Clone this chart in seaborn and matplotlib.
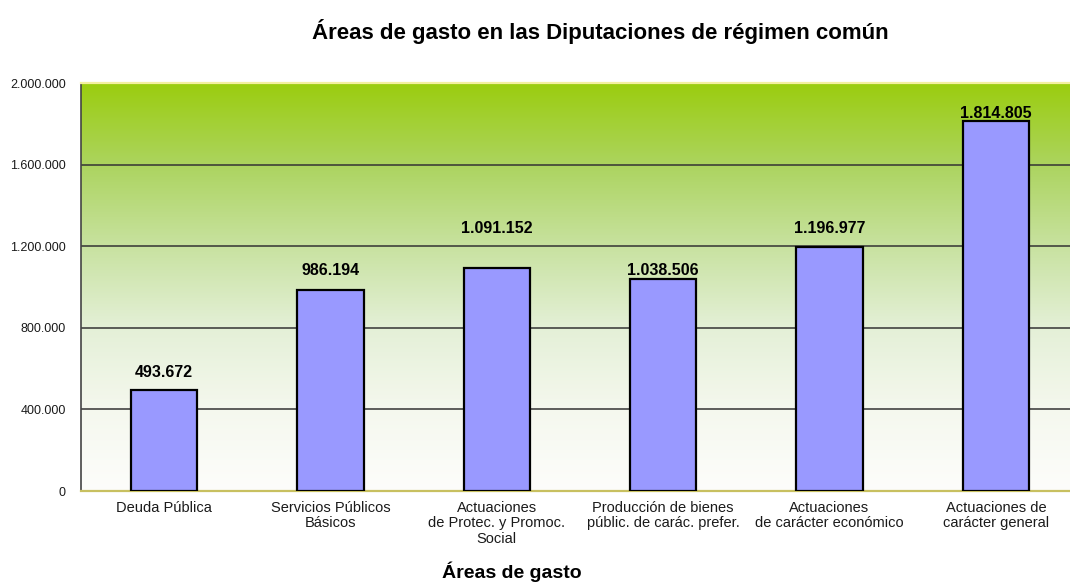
import numpy as np
import pandas as pd
import matplotlib
matplotlib.use("Agg")
import matplotlib.pyplot as plt
from matplotlib.colors import LinearSegmentedColormap
from matplotlib.ticker import FuncFormatter, FixedLocator
import seaborn as sns

# =============================================================================
# DATOS
# =============================================================================
areas = [
    "Deuda Pública",
    "Servicios Públicos\nBásicos",
    "Actuaciones\nde Protec. y Promoc.\nSocial",
    "Producción de bienes\npúblic. de carác. prefer.",
    "Actuaciones\nde carácter económico",
    "Actuaciones de\ncarácter general",
]
gasto = [493672, 986194, 1091152, 1038506, 1196977, 1814805]
etiquetas = ["493.672", "986.194", "1.091.152", "1.038.506", "1.196.977", "1.814.805"]

# desplazamiento de cada etiqueta sobre la barra (puntos)
desplazamientos = [13, 14, 29, 6, 13, 5]

titulo = "Áreas de gasto en las Diputaciones de régimen común"
eje_x = "Áreas de gasto"

# =============================================================================
# GRAFICO
# =============================================================================
sns.set_style("white")
plt.rcParams["font.family"] = ["Liberation Sans", "DejaVu Sans"]
plt.rcParams["text.color"] = "black"

df = pd.DataFrame({"area": areas, "gasto": gasto})

fig = plt.figure(figsize=(10.7, 5.82), dpi=100)
ax = fig.add_axes([81 / 1070, 1 - 491 / 582, 998 / 1070, 408 / 582])

# fondo degradado verde -> blanco
verde = LinearSegmentedColormap.from_list(
    "fondo",
    [
        (0.0, (253 / 255, 253 / 255, 251 / 255)),
        (0.2, (245 / 255, 248 / 255, 238 / 255)),
        (0.4, (228 / 255, 240 / 255, 215 / 255)),
        (0.6, (200 / 255, 226 / 255, 160 / 255)),
        (0.8, (172 / 255, 212 / 255, 95 / 255)),
        (1.0, (155 / 255, 205 / 255, 15 / 255)),
    ],
)
grad = np.linspace(0, 1, 256).reshape(-1, 1)
ax.imshow(grad, cmap=verde, origin="lower", aspect="auto",
          extent=[-0.5, 5.5, 0, 2000000], zorder=0)

sns.barplot(data=df, x="area", y="gasto", color="#9999FF", width=0.4,
            edgecolor="black", linewidth=1.6, saturation=1, ax=ax, zorder=3)

for p in ax.patches:
    p.set_zorder(3)

ax.set_xlim(-0.5, 5.5)
ax.set_ylim(0, 2000000)
ax.set_yticks(np.arange(0, 2000001, 400000))
ax.yaxis.set_major_formatter(FuncFormatter(lambda v, _: f"{int(v):,}".replace(",", ".")))

for y in np.arange(400000, 2000000, 400000):
    ax.axhline(y, color="#333333", lw=1.1, zorder=1)

for i, (v, t) in enumerate(zip(gasto, etiquetas)):
    ax.annotate(t, (i, v), xytext=(0, desplazamientos[i]), textcoords="offset points",
                ha="center", va="center", fontsize=11.5, fontweight="bold",
                color="black", zorder=4)

ax.tick_params(axis="x", which="major", length=0, pad=7, labelsize=10.5, labelcolor="#1a1a1a")
ax.xaxis.set_minor_locator(FixedLocator(np.arange(0.5, 5.5, 1)))
ax.tick_params(axis="x", which="minor", length=5, color="#555555", direction="out")
ax.tick_params(axis="y", length=4, pad=7, color="#555555", labelsize=9, labelcolor="#1a1a1a", direction="out")
for lbl in ax.get_xticklabels():
    lbl.set_linespacing(1.15)
ax.set_xlabel("")
ax.set_ylabel("")

ax.spines["left"].set_color("#444444")
ax.spines["left"].set_linewidth(1.2)
ax.spines["bottom"].set_color("#c8c060")
ax.spines["bottom"].set_linewidth(1.6)
ax.spines["top"].set_color("#f4f0a0")
ax.spines["top"].set_linewidth(1.6)
ax.spines["right"].set_visible(False)

fig.text(600 / 1070, 1 - 32 / 582, titulo, ha="center", va="center",
         fontsize=16, fontweight="bold")
fig.text(512 / 1070, 1 - 572 / 582, eje_x, ha="center", va="center",
         fontsize=14, fontweight="bold")

fig.savefig("out.png", dpi=100)
